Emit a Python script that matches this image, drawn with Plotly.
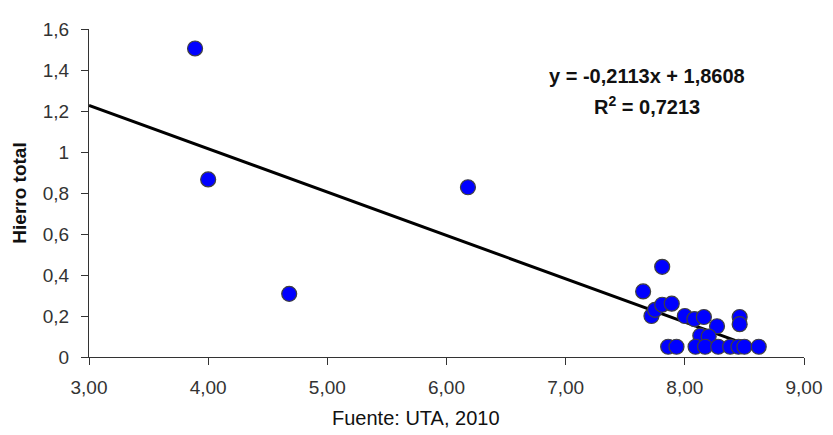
import plotly.graph_objects as go

# Data (pH vs Hierro total)
ph = [3.89, 4.00, 4.68, 6.18,
      7.81, 7.65, 7.72, 7.75, 7.81, 7.89, 8.00, 8.08, 8.16, 8.27, 8.46, 8.46,
      8.13, 8.20,
      7.86, 7.93, 8.09, 8.17, 8.28, 8.38, 8.45, 8.50, 8.62]
hierro = [1.505, 0.866, 0.308, 0.828,
          0.44, 0.32, 0.20, 0.23, 0.255, 0.26, 0.20, 0.185, 0.195, 0.15, 0.195, 0.16,
          0.104, 0.10,
          0.05, 0.05, 0.05, 0.05, 0.05, 0.05, 0.05, 0.05, 0.05]

slope = -0.2113
intercept = 1.8608
trend_x = [3.0, 8.6]
trend_y = [slope * v + intercept for v in trend_x]

x_ticks = [3, 4, 5, 6, 7, 8, 9]
y_ticks = [0, 0.2, 0.4, 0.6, 0.8, 1.0, 1.2, 1.4, 1.6]

eq_text = "<b>y = -0,2113x + 1,8608</b>"
r2_text = "<b>R<sup>2</sup> = 0,7213</b>"
source_text = "Fuente: UTA, 2010"

fig = go.Figure()
fig.add_trace(go.Scatter(
    x=trend_x, y=trend_y, mode="lines",
    line=dict(color="black", width=3), showlegend=False, hoverinfo="skip"))
fig.add_trace(go.Scatter(
    x=ph, y=hierro, mode="markers",
    marker=dict(color="#0000FF", size=15, line=dict(color="#404040", width=1.2)),
    showlegend=False))

font_family = "Liberation Sans, Arial, sans-serif"

# page has an 8px body margin: figure is sized so it fits the 833x435 window
fig.update_layout(
    width=825, height=427,
    margin=dict(l=81, r=25, t=11, b=78),
    paper_bgcolor="white", plot_bgcolor="white",
    separators=", ",
    font=dict(family=font_family, size=19, color="#333333"),
    xaxis=dict(range=[3, 9], tickvals=x_ticks, tickformat=".2f",
               showgrid=False, zeroline=False, showline=True,
               linecolor="#333333", linewidth=1.3,
               ticks="outside", ticklen=7, tickcolor="#333333",
               ticklabelstandoff=6, tickfont=dict(size=19)),
    yaxis=dict(range=[0, 1.6], tickvals=y_ticks,
               showgrid=False, zeroline=False, showline=True,
               linecolor="#333333", linewidth=1.3,
               ticks="outside", ticklen=7, tickcolor="#333333",
               ticklabelstandoff=8, tickfont=dict(size=19),
               title=dict(text="<b>Hierro total</b>", font=dict(size=19, color="#111111"),
                          standoff=10)),
    annotations=[
        dict(text=eq_text, x=0.781, y=0.858, xref="paper", yref="paper",
             showarrow=False, font=dict(size=20, color="#111111"),
             xanchor="center", yanchor="middle"),
        dict(text=r2_text, x=0.781, y=0.766, xref="paper", yref="paper",
             showarrow=False, font=dict(size=20, color="#111111"),
             xanchor="center", yanchor="middle"),
        dict(text=source_text, x=0.4576, y=-0.186, xref="paper", yref="paper",
             showarrow=False, font=dict(size=20, color="#111111"),
             xanchor="center", yanchor="middle"),
    ],
)

fig.write_html("out.html")
